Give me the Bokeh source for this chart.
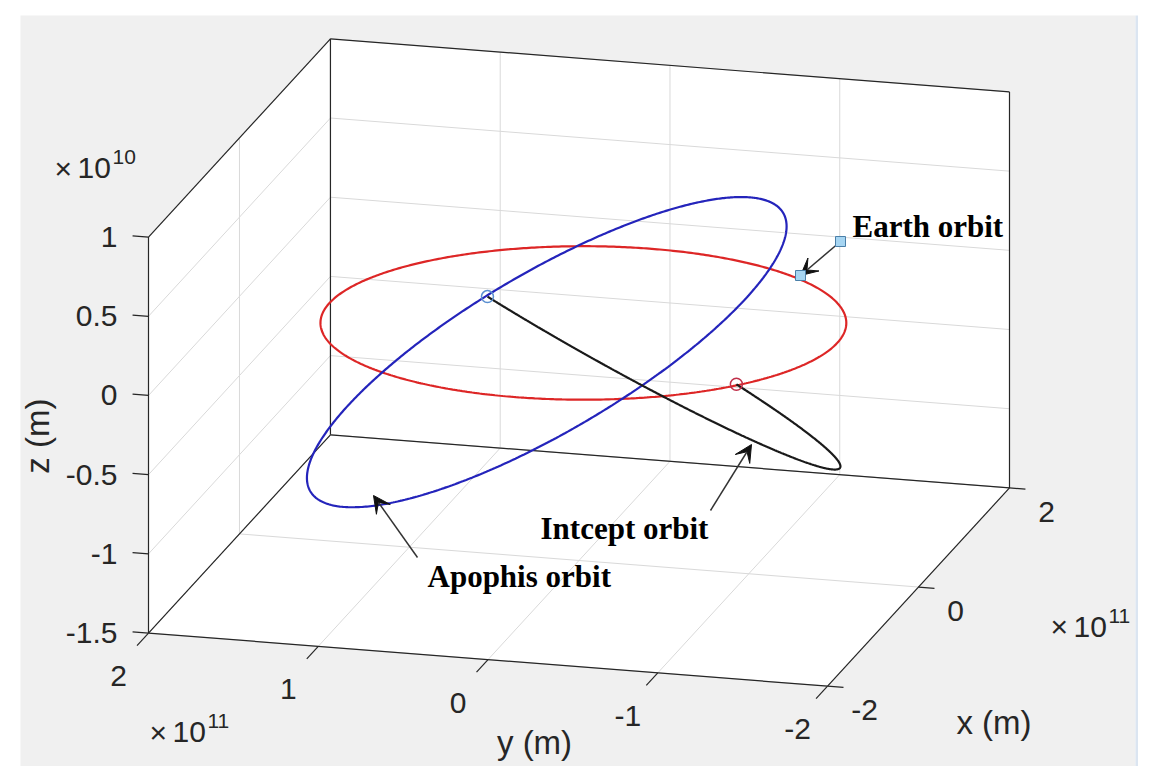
import math
import numpy as np
from bokeh.plotting import figure
from bokeh.models import Range1d, Arrow, VeeHead
from bokeh.core.properties import value
from bokeh.embed import file_html
from bokeh.resources import INLINE

AU = 1.495978707e11

# ---------------- data ----------------
X_LIM = [-2e11, 2e11]
Y_LIM = [-2e11, 2e11]
Z_LIM = [-1.5e10, 1e10]
X_TICKS = [-2e11, 0.0, 2e11]
X_TICK_LABELS = ["-2", "0", "2"]
Y_TICKS = [2e11, 1e11, 0.0, -1e11, -2e11]
Y_TICK_LABELS = ["2", "1", "0", "-1", "-2"]
Z_TICKS = [-1.5e10, -1e10, -0.5e10, 0.0, 0.5e10, 1e10]
Z_TICK_LABELS = ["-1.5", "-1", "-0.5", "0", "0.5", "1"]
X_EXPONENT = "11"
Y_EXPONENT = "11"
Z_EXPONENT = "10"

# heliocentric orbital elements
ORBITS = ["Earth", "Apophis", "Intercept"]
SEMI_MAJOR_AU = [1.00000, 0.92240, 0.91320]
ECCENTRICITY = [0.0167, 0.1912, 0.1055]
INCLINATION_DEG = [0.000, 3.331, 4.40]
RAAN_DEG = [0.00, 204.43, 51.80]
ARG_PERI_DEG = [102.94, 126.42, 24.10]
TRUE_ANOM_START_DEG = [0.0, 0.0, 155.9]
TRUE_ANOM_END_DEG = [360.0, 360.0, 323.8]

ANNOT_TEXT = ["Earth orbit", "Intcept orbit", "Apophis orbit"]

# ---------------- view / style ----------------
VIEW_AZ, VIEW_EL = -75.0, 27.4
BOX_SX, BOX_SY = 703.0, 446.0
BOX_CX, BOX_CY = 578.5, 362.0

ORBIT_COLORS = ["#dd2626", "#2424bb", "#1a1a1a"]
AXIS_COLOR = "#262626"
GRID_COLOR = "#d9d9d9"
TICK_FONT = "30px"
LABEL_FONT = "33px"
SUP_FONT = "21px"
SANS = "Liberation Sans"
SERIF = "Liberation Serif"


def project(x, y, z):
    x = np.asarray(x, dtype=float)
    y = np.asarray(y, dtype=float)
    z = np.asarray(z, dtype=float)
    nx = (x - X_LIM[0]) / (X_LIM[1] - X_LIM[0]) - 0.5
    ny = (y - Y_LIM[0]) / (Y_LIM[1] - Y_LIM[0]) - 0.5
    nz = (z - Z_LIM[0]) / (Z_LIM[1] - Z_LIM[0]) - 0.5
    az, el = math.radians(VIEW_AZ), math.radians(VIEW_EL)
    u = math.cos(az) * nx + math.sin(az) * ny
    v = (-math.sin(el) * math.sin(az) * nx + math.sin(el) * math.cos(az) * ny
         + math.cos(el) * nz)
    return BOX_CX + BOX_SX * u, BOX_CY - BOX_SY * v


def orbit_xyz(k, nu_deg):
    nu = np.radians(np.asarray(nu_deg, dtype=float))
    a = SEMI_MAJOR_AU[k] * AU
    e = ECCENTRICITY[k]
    r = a * (1 - e * e) / (1 + e * np.cos(nu))
    u = np.radians(ARG_PERI_DEG[k]) + nu
    O = math.radians(RAAN_DEG[k])
    i = math.radians(INCLINATION_DEG[k])
    x = r * (math.cos(O) * np.cos(u) - math.sin(O) * np.sin(u) * math.cos(i))
    y = r * (math.sin(O) * np.cos(u) + math.cos(O) * np.sin(u) * math.cos(i))
    z = r * np.sin(u) * math.sin(i)
    return x, y, z


p = figure(width=1139, height=766, x_range=Range1d(0, 1139), y_range=Range1d(766, 0),
           output_backend="svg", toolbar_location=None, min_border=0,
           x_axis_location=None, y_axis_location=None)
p.grid.visible = False
p.outline_line_color = None
p.background_fill_color = "white"
p.border_fill_color = "white"

# figure background
p.quad(left=20, right=1135, top=15, bottom=790, fill_color="#f0f0f0", line_color=None)
p.quad(left=1135, right=1137.5, top=15, bottom=790, fill_color="#dbe5f1", line_color=None)

x0, x1 = X_LIM
y0, y1 = Y_LIM
z0, z1 = Z_LIM

# back planes (white)
planes = [
    ([x0, x1, x1, x0], [y0, y0, y1, y1], [z0, z0, z0, z0]),  # floor
    ([x1, x1, x1, x1], [y0, y1, y1, y0], [z0, z0, z1, z1]),  # back wall
    ([x0, x1, x1, x0], [y1, y1, y1, y1], [z0, z0, z1, z1]),  # left wall
]
pxs, pys = [], []
for X, Y, Z in planes:
    sx, sy = project(X, Y, Z)
    pxs.append(list(sx))
    pys.append(list(sy))
p.patches(pxs, pys, fill_color="white", line_color=None)

# grid lines
grid = []
for zt in Z_TICKS:
    grid.append(((x1, y0, zt), (x1, y1, zt)))
    grid.append(((x0, y1, zt), (x1, y1, zt)))
for yt in Y_TICKS:
    grid.append(((x1, yt, z0), (x1, yt, z1)))
    grid.append(((x0, yt, z0), (x1, yt, z0)))
for xt in X_TICKS:
    grid.append(((xt, y1, z0), (xt, y1, z1)))
    grid.append(((xt, y0, z0), (xt, y1, z0)))
gx, gy = [], []
for a, b in grid:
    sx, sy = project([a[0], b[0]], [a[1], b[1]], [a[2], b[2]])
    gx.append(list(sx))
    gy.append(list(sy))
p.multi_line(gx, gy, line_color=GRID_COLOR, line_width=1)

# box edges
edges = [
    ((x0, y1, z0), (x0, y1, z1)),
    ((x0, y1, z1), (x1, y1, z1)),
    ((x1, y1, z0), (x1, y1, z1)),
    ((x1, y1, z1), (x1, y0, z1)),
    ((x1, y0, z0), (x1, y0, z1)),
    ((x1, y1, z0), (x1, y0, z0)),
    ((x0, y1, z0), (x1, y1, z0)),
    ((x0, y1, z0), (x0, y0, z0)),
    ((x0, y0, z0), (x1, y0, z0)),
]
ex, ey = [], []
for a, b in edges:
    sx, sy = project([a[0], b[0]], [a[1], b[1]], [a[2], b[2]])
    ex.append(list(sx))
    ey.append(list(sy))
p.multi_line(ex, ey, line_color=AXIS_COLOR, line_width=1.2)


def screen_dir(pt, d):
    sa = project(*pt)
    sb = project(pt[0] + d[0], pt[1] + d[1], pt[2] + d[2])
    vx, vy = float(sb[0] - sa[0]), float(sb[1] - sa[1])
    n = math.hypot(vx, vy)
    return vx / n, vy / n


tx, ty = [], []
# z ticks (pointing to +y)
zlab_x, zlab_y = [], []
for zt in Z_TICKS:
    bx, by = project(x0, y1, zt)
    bx, by = float(bx), float(by)
    dx, dy = screen_dir((x0, y1, zt), (0, 1e10, 0))
    tx.append([bx, bx + 16 * dx])
    ty.append([by, by + 16 * dy])
    zlab_x.append(bx - 31)
    zlab_y.append(by)
# y ticks (pointing to -x)
ylab_x, ylab_y = [], []
for yt in Y_TICKS:
    bx, by = project(x0, yt, z0)
    bx, by = float(bx), float(by)
    dx, dy = screen_dir((x0, yt, z0), (-1e10, 0, 0))
    tx.append([bx, bx + 17 * dx])
    ty.append([by, by + 17 * dy])
    ylab_x.append(bx - 30)
    ylab_y.append(by + 43)
# x ticks (pointing to -y)
xlab_x, xlab_y = [], []
for xt in X_TICKS:
    bx, by = project(xt, y0, z0)
    bx, by = float(bx), float(by)
    dx, dy = screen_dir((xt, y0, z0), (0, -1e10, 0))
    tx.append([bx, bx + 16 * dx])
    ty.append([by, by + 16 * dy])
    xlab_x.append(bx + 37)
    xlab_y.append(by + 24)
p.multi_line(tx, ty, line_color=AXIS_COLOR, line_width=1.2)

tick_style = dict(text_font=value(SANS), text_font_size=value(TICK_FONT),
                  text_color="#262626")
p.text(x=zlab_x, y=zlab_y, text=Z_TICK_LABELS, text_align="right",
       text_baseline="middle", **tick_style)
p.text(x=ylab_x, y=ylab_y, text=Y_TICK_LABELS, text_align="center",
       text_baseline="middle", **tick_style)
p.text(x=xlab_x, y=xlab_y, text=X_TICK_LABELS, text_align="center",
       text_baseline="middle", **tick_style)

# axis labels
zmx, zmy = project(x0, y1, (z0 + z1) / 2)
ymx, ymy = project(x0, 0.0, z0)
xmx, xmy = project(0.0, y0, z0)
p.text(x=[float(ymx) + 46.5, float(xmx) + 75.5], y=[float(ymy) + 83, float(xmy) + 135.5],
       text=["y (m)", "x (m)"], text_align="center", text_baseline="middle",
       text_font=value(SANS), text_font_size=value(LABEL_FONT), text_color="#262626")
p.text(x=[float(zmx) - 111], y=[float(zmy) + 1], text=["z (m)"], angle=math.pi / 2,
       text_align="center", text_baseline="middle",
       text_font=value(SANS), text_font_size=value(LABEL_FONT), text_color="#262626")

# exponent labels (x10 with superscript)
zt_x, zt_y = project(x0, y1, z1)
yb_x, yb_y = project(x0, y1, z0)
xe_x, xe_y = project(x1, y0, z0)
exp_left = [float(zt_x) - 94, float(yb_x) + 1, float(xe_x) + 41]
exp_mid = [float(zt_y) - 69, float(yb_y) + 99, float(xe_y) + 139]
exp_sup = [Z_EXPONENT, Y_EXPONENT, X_EXPONENT]
p.text(x=exp_left, y=exp_mid, text=["\u00d7"] * 3, text_align="left",
       text_baseline="middle", text_font=value(SANS),
       text_font_size=value(TICK_FONT), text_color="#262626")
p.text(x=[v + 23 for v in exp_left], y=exp_mid, text=["10"] * 3, text_align="left",
       text_baseline="middle", text_font=value(SANS),
       text_font_size=value(TICK_FONT), text_color="#262626")
p.text(x=[v + 58 for v in exp_left], y=[v - 11 for v in exp_mid], text=exp_sup,
       text_align="left", text_baseline="middle", text_font=value(SANS),
       text_font_size=value(SUP_FONT), text_color="#262626")

# orbits
for k in range(len(ORBITS)):
    nu = np.linspace(TRUE_ANOM_START_DEG[k], TRUE_ANOM_END_DEG[k], 600)
    X, Y, Z = orbit_xyz(k, nu)
    sx, sy = project(X, Y, Z)
    p.line(list(sx), list(sy), line_color=ORBIT_COLORS[k], line_width=2.2)

# departure / arrival markers
dX, dY, dZ = orbit_xyz(2, [TRUE_ANOM_START_DEG[2]])
aX, aY, aZ = orbit_xyz(2, [TRUE_ANOM_END_DEG[2]])
dsx, dsy = project(dX, dY, dZ)
asx, asy = project(aX, aY, aZ)
p.scatter(list(dsx), list(dsy), marker="circle", size=12, fill_color=None,
          line_color="#c0304a", line_width=1.5)
p.scatter(list(asx), list(asy), marker="circle", size=12, fill_color=None,
          line_color="#5a8fd0", line_width=1.5)

# annotations (figure-space)
ARROWS = [(840, 241, 800, 275), (710, 510, 751, 444), (417, 557, 373, 495)]
for (ax0, ay0, ax1, ay1) in ARROWS:
    p.add_layout(Arrow(end=VeeHead(size=17, fill_color="#111111", line_color="#111111",
                                   line_width=1),
                       x_start=ax0, y_start=ay0, x_end=ax1, y_end=ay1,
                       line_color="#333333", line_width=1.5))
sq = p.scatter([ARROWS[0][0], ARROWS[0][2]], [ARROWS[0][1], ARROWS[0][3]], marker="square",
               size=10, fill_color="#a6d5f2", line_color="#4a7fa8", line_width=1)
sq.level = "overlay"

p.text(x=[852, 540, 427], y=[226, 528, 576], text=ANNOT_TEXT, text_align="left",
       text_baseline="middle", text_font=value(SERIF), text_font_style="bold",
       text_font_size=value("31px"), text_color="black")

open("out.html", "w").write(file_html(p, INLINE))
